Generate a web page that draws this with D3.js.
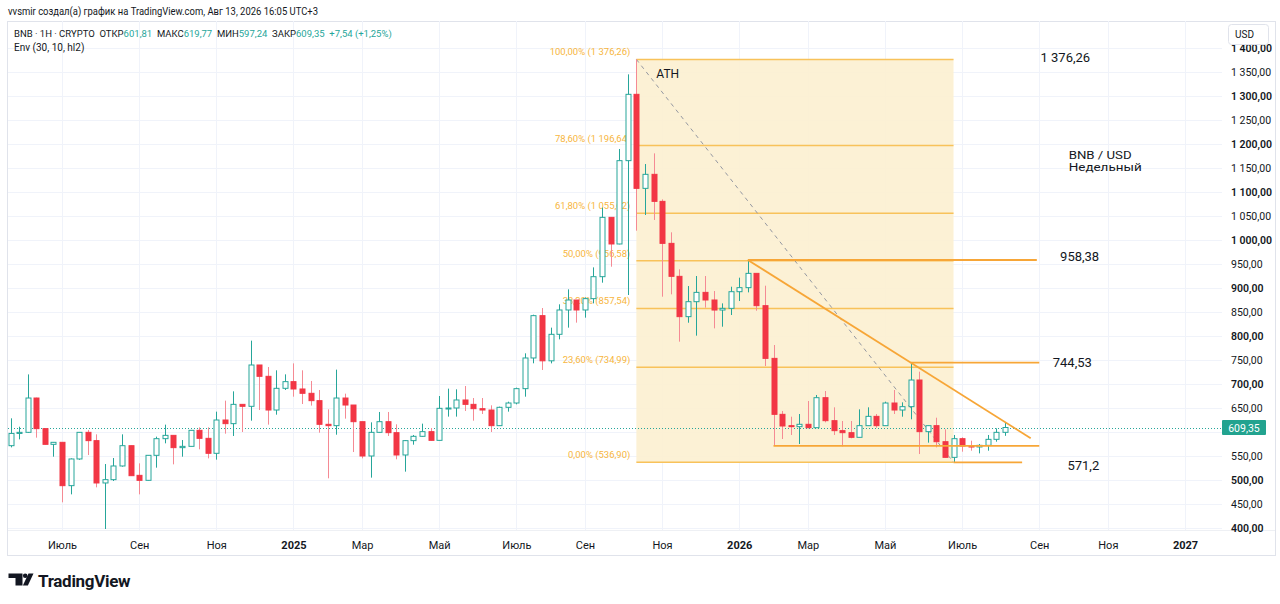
<!DOCTYPE html>
<html>
<head>
<meta charset="utf-8">
<script src="https://cdn.jsdelivr.net/npm/d3@7"></script>
<style>
  body { margin: 0; background: #fff; }
  svg { font-family: Roboto, "Noto Sans", sans-serif; display: block; }
</style>
</head>
<body>
<div id="chart"></div>
<script>
// weekly BNB/USD candles, first bar = week of 2024-05-20
const firstWeek = "2024-05-20";
const opens = [571.5, 597, 599.3, 670.8, 607, 574.3, 578.5, 488.2, 543.8, 599.3,
  582, 493.8, 500.7, 529.2, 571.5, 509.7, 499.3, 551.4, 586.1, 593,
  567.4, 570.1, 603.5, 586.8, 555.6, 625, 617.4, 657.6, 653.5, 739.6,
  716, 645.8, 691, 704.9, 689.6, 680.6, 665.3, 616, 613.2, 670.8,
  656.2, 621.5, 550, 599.3, 621.5, 598.6, 552.1, 582, 591, 600.7,
  582.6, 649.3, 650, 666.7, 657.6, 648.6, 645.8, 613.2, 651.4, 660.4,
  690.3, 754.2, 842.4, 748.3, 803.5, 854.2, 875, 854.2, 877.8, 923.6,
  1047.2, 991.7, 1165.3, 1303.5, 1107.6, 1136.8, 1080.5, 993, 924.3, 840.3,
  871.5, 890.9, 875, 854.1, 857.6, 892.3, 900.7, 930.5, 863.2, 753.4,
  636.8, 613.2, 611.1, 616, 609, 671.5, 623.6, 602.8, 598.6, 588.9,
  613.2, 632.6, 613.2, 660.4, 645.8, 652.8, 708.3, 600.7, 613.2, 579.8,
  547.2, 586.1, 570.8, 568.8, 572.2, 584.7, 599.3];
const highs = [628.5, 611, 720, 671.5, 607.6, 578.5, 578.5, 545, 599.3, 604.2,
  595.1, 533.3, 545.8, 595.1, 571.5, 534.7, 551.4, 590.3, 615.3, 593,
  583.3, 603.5, 609.7, 609.7, 642.4, 665.3, 684.7, 657.6, 790.3, 739.6,
  735.4, 728.5, 720.1, 743, 728.5, 706.3, 687.5, 647.2, 729.9, 679.9,
  656.2, 621.5, 620.1, 641.7, 641.7, 616, 583.3, 593.8, 617.4, 608.3,
  675, 690.3, 688.9, 695.8, 670.8, 670.8, 655.6, 652.8, 663.2, 692.4,
  763.9, 844.4, 858.3, 817.4, 866, 897.2, 875, 880.5, 943, 1067.4,
  1047.2, 1189.6, 1345.1, 1376.26, 1158.3, 1180.5, 1084.7, 1016, 938.9, 904.1,
  925, 925, 893.7, 868, 902.7, 921.5, 958.38, 930.5, 904.8, 781.2,
  643.8, 631.9, 637.5, 664.6, 677.1, 685.4, 651.4, 622.9, 622.9, 647.2,
  651.4, 637.5, 663.2, 687.5, 661.8, 744.53, 725.7, 613.2, 629.8, 605.5,
  593.8, 588.9, 581.9, 575, 593.8, 607.6, 619.77];
const lows = [568, 584.7, 598, 588.2, 574, 548.6, 453.5, 470.1, 542, 552.1,
  484.7, 397.9, 497.9, 527.8, 509, 470.1, 499, 525.7, 576.4, 532.6,
  548.6, 570, 563.9, 545.1, 542.4, 596.5, 591.7, 600, 623.6, 645.8,
  615.3, 636.1, 687.5, 673.6, 658.3, 655, 598.6, 503.5, 594.4, 627.8,
  558.3, 545.1, 504.9, 599, 591.7, 543.1, 517.4, 573.6, 590.3, 582,
  582, 632, 632, 643.8, 623.6, 637.5, 600, 613, 642.4, 657.6,
  673.6, 743.1, 729.2, 743, 793, 817.4, 827.8, 838.2, 868, 911.1,
  944.4, 991, 885.4, 1019.4, 1052.1, 1041.7, 881.9, 886.8, 788.2, 827.7,
  800.7, 859, 815.9, 819.4, 843.7, 872.9, 890.9, 852.7, 737.5, 571.2,
  585.4, 593.8, 575, 607.6, 609, 620.1, 593.8, 570, 586.8, 588.9,
  613.2, 609, 613, 637.5, 631.9, 626.4, 554.1, 577.8, 568, 547,
  536.9, 559, 561.1, 555.5, 561.1, 579.8, 592];
const closes = [597, 599.3, 670.8, 607, 574.3, 578.5, 488.2, 543.8, 599.3, 582,
  493.8, 500.7, 529.2, 571.5, 509, 499.3, 551.4, 586.1, 593, 567.4,
  570.1, 603.5, 586.8, 555.6, 625, 617.4, 657.6, 653.5, 739.6, 716,
  645.8, 691, 704.9, 689.6, 680.6, 665.3, 616, 613.2, 670.8, 656.2,
  621.5, 550, 599.3, 621.5, 598.6, 552.1, 582, 591, 600.7, 582.6,
  649.3, 650, 666.7, 657.6, 648.6, 645.8, 613.2, 651.4, 660.4, 690.3,
  754.2, 842.4, 748.3, 803.5, 854.2, 875, 854.2, 877.8, 923.6, 1047.2,
  991.7, 1165.3, 1303.5, 1107.6, 1136.8, 1080.5, 993, 924.3, 840.3, 871.5,
  890.9, 875, 854.1, 857.6, 892.3, 900.7, 930.5, 863.2, 753.4, 636.8,
  612.5, 611.1, 616, 609, 671.5, 623.6, 602.8, 598.6, 588.9, 613.2,
  632.6, 613.2, 660.4, 645.8, 652.8, 708.3, 600.7, 613.2, 579.8, 547.2,
  586.1, 570.8, 568.8, 572.2, 584.7, 599.3, 609.35];

// x axis: first weekly bar of every second month
const tickDates = ["2024-07-01", "2024-09-02", "2024-11-04", "2025-01-06", "2025-03-03", "2025-05-05",
  "2025-07-07", "2025-09-01", "2025-11-03", "2026-01-05", "2026-03-02", "2026-05-04",
  "2026-07-06", "2026-09-07", "2026-11-02", "2027-01-04"];
const tickLabels = ["Июль", "Сен", "Ноя", "2025", "Мар", "Май", "Июль", "Сен", "Ноя", "2026",
  "Мар", "Май", "Июль", "Сен", "Ноя", "2027"];

// fibonacci retracement ATH -> low
const fibStart = "2025-10-13", fibEnd = "2026-06-29";
const fibHigh = 1376.26, fibLow = 536.90;
const fibRatios = [0, 0.236, 0.382, 0.5, 0.618, 0.786, 1];

// hand drawn levels
const levelPrices = [958.38, 744.53, 571.2, 536.90];
const levelStarts = ["2026-01-12", "2026-05-25", "2026-02-02", "2026-06-29"];
const levelEnds = ["2026-09-05", "2026-09-07", "2026-09-07", "2026-08-24"];
const trendFrom = ["2026-01-12", 958.38], trendTo = ["2026-08-31", 586.9];
const lastPrice = 609.35;

const W = 1280, H = 604;
const plot = { left: 8, right: 1222, top: 21, bottom: 530 };
const green = "#26a69a", red = "#f23645", redWick = "#f58a94";
const fibColor = "#f8c25a", lineColor = "#f7a637", ink = "#131722";

const parse = d3.utcParse("%Y-%m-%d");
const ru = d3.formatLocale({ decimal: ",", thousands: "\u00a0", grouping: [3], currency: ["", ""] });
const fmtPrice = ru.format(",.2f");
const fmtLevel = ru.format(",");
const fmtPct = ru.format(".2f");

const x = d3.scaleUtc().domain([parse("2024-07-01"), parse("2027-01-04")]).range([62, 1185]);
const y = d3.scaleLinear().domain([400, 1400]).range([528, 48]);

const bars = opens.map((o, i) => ({
  date: d3.utcDay.offset(parse(firstWeek), 7 * i),
  o: o, h: highs[i], l: lows[i], c: closes[i]
}));

const svg = d3.select("#chart").append("svg").attr("width", W).attr("height", H);

svg.append("defs").append("clipPath").attr("id", "clip")
  .append("rect").attr("x", plot.left).attr("y", plot.top)
  .attr("width", plot.right - plot.left).attr("height", plot.bottom - plot.top);

// header
svg.append("text").attr("x", 8).attr("y", 15).attr("font-size", 10.5).attr("fill", ink)
  .attr("textLength", 310).attr("lengthAdjust", "spacingAndGlyphs")
  .text("vvsmir создал(а) график на TradingView.com, Авг 13, 2026 16:05 UTC+3");

// frame
svg.append("rect").attr("x", 7.5).attr("y", 21.5).attr("width", 1268).attr("height", 534)
  .attr("fill", "none").attr("stroke", "#e0e3eb");
svg.append("line").attr("x1", 8).attr("x2", 1275).attr("y1", plot.bottom + 0.5).attr("y2", plot.bottom + 0.5)
  .attr("stroke", "#eef0f4");

// grid
const grid = svg.append("g").attr("clip-path", "url(#clip)");
grid.selectAll("line.h").data(d3.range(400, 1401, 50)).join("line")
  .attr("x1", plot.left).attr("x2", plot.right)
  .attr("y1", d => Math.round(y(d)) + 0.5).attr("y2", d => Math.round(y(d)) + 0.5)
  .attr("stroke", "#f0f3fa");
grid.selectAll("line.v").data(tickDates).join("line")
  .attr("y1", plot.top).attr("y2", plot.bottom)
  .attr("x1", d => Math.round(x(parse(d))) + 0.5).attr("x2", d => Math.round(x(parse(d))) + 0.5)
  .attr("stroke", "#f0f3fa");

// fibonacci block
const fx0 = x(parse(fibStart)), fx1 = x(parse(fibEnd));
const fibG = svg.append("g");
fibG.append("rect").attr("x", fx0).attr("y", y(fibHigh))
  .attr("width", fx1 - fx0).attr("height", y(fibLow) - y(fibHigh))
  .attr("fill", "#fcefd0").attr("opacity", 0.9);
const fibLevels = fibRatios.map(r => ({ r: r, p: fibLow + r * (fibHigh - fibLow) }));
fibG.selectAll("line").data(fibLevels).join("line")
  .attr("x1", fx0).attr("x2", fx1).attr("y1", d => y(d.p)).attr("y2", d => y(d.p))
  .attr("stroke", fibColor).attr("stroke-width", 1.5);
fibG.selectAll("text").data(fibLevels).join("text")
  .attr("x", fx0 - 6).attr("y", d => y(d.p) - 4)
  .attr("text-anchor", "end").attr("font-size", 9.5).attr("fill", "#f7b640")
  .text(d => `${fmtPct(d.r * 100)}% (${fmtPrice(d.p)})`);
fibG.append("line")
  .attr("x1", fx0).attr("y1", y(fibHigh)).attr("x2", fx1).attr("y2", y(fibLow))
  .attr("stroke", "#9598a1").attr("stroke-dasharray", "4,4");

// current price dotted line
svg.append("line").attr("x1", plot.left).attr("x2", plot.right)
  .attr("y1", Math.round(y(lastPrice)) + 0.5).attr("y2", Math.round(y(lastPrice)) + 0.5)
  .attr("stroke", green).attr("stroke-dasharray", "1,2");

// candles
const cg = svg.append("g").attr("clip-path", "url(#clip)");
const bw = 5;
cg.selectAll("line.wick").data(bars).join("line")
  .attr("x1", d => Math.round(x(d.date)) + 0.5).attr("x2", d => Math.round(x(d.date)) + 0.5)
  .attr("y1", d => y(d.h)).attr("y2", d => y(d.l))
  .attr("stroke", d => d.c >= d.o ? green : redWick);
cg.selectAll("rect.body").data(bars).join("rect")
  .attr("x", d => Math.round(x(d.date)) + 0.5 - bw / 2)
  .attr("width", bw)
  .attr("y", d => y(Math.max(d.o, d.c)))
  .attr("height", d => Math.max(1, Math.abs(y(d.o) - y(d.c))))
  .attr("fill", d => d.c >= d.o ? "#ffffff" : red)
  .attr("stroke", d => d.c >= d.o ? green : red);

// hand drawn lines
const lg = svg.append("g");
lg.selectAll("line.level").data(levelPrices).join("line")
  .attr("x1", (d, i) => x(parse(levelStarts[i]))).attr("x2", (d, i) => x(parse(levelEnds[i])))
  .attr("y1", d => y(d)).attr("y2", d => y(d))
  .attr("stroke", lineColor).attr("stroke-width", 1.8);
lg.append("line")
  .attr("x1", x(parse(trendFrom[0]))).attr("y1", y(trendFrom[1]))
  .attr("x2", x(parse(trendTo[0]))).attr("y2", y(trendTo[1]))
  .attr("stroke", lineColor).attr("stroke-width", 1.8);

// annotations
const ann = svg.append("g").attr("font-size", 13).attr("fill", ink);
ann.append("text").attr("x", x(parse("2026-09-08"))).attr("y", y(fibHigh) + 3).text(fmtLevel(fibHigh));
ann.append("text").attr("x", x(parse("2026-09-24"))).attr("y", y(levelPrices[0]) + 1).text(fmtLevel(levelPrices[0]));
ann.append("text").attr("x", x(parse("2026-09-18"))).attr("y", y(levelPrices[1]) + 4.5).text(fmtLevel(levelPrices[1]));
ann.append("text").attr("x", x(parse("2026-09-30"))).attr("y", y(levelPrices[2]) + 24).text(fmtLevel(levelPrices[2]));
ann.append("text").attr("x", x(parse("2026-10-01"))).attr("y", y(1169)).attr("font-size", 11.5)
  .attr("textLength", 63).attr("lengthAdjust", "spacingAndGlyphs").text("BNB / USD");
ann.append("text").attr("x", x(parse("2026-10-01"))).attr("y", y(1143.5)).attr("font-size", 11.5)
  .attr("textLength", 73).attr("lengthAdjust", "spacingAndGlyphs").text("Недельный");
ann.append("text").attr("x", fx0 + 20).attr("y", y(fibHigh) + 19).attr("font-size", 12).text("ATH");

// legend
const leg = svg.append("text").attr("x", 14).attr("y", 37).attr("font-size", 9.5).attr("fill", ink)
  .attr("xml:space", "preserve");
const legendParts = [["BNB · 1H · CRYPTO  ОТКР", ink], ["601,81", green], ["  МАКС", ink], ["619,77", green],
  ["  МИН", ink], ["597,24", green], ["  ЗАКР", ink], ["609,35", green], ["  +7,54 (+1,25%)", green]];
leg.selectAll("tspan").data(legendParts).join("tspan")
  .attr("fill", d => d[1]).text(d => d[0]);
svg.append("text").attr("x", 14).attr("y", 51).attr("font-size", 10).attr("fill", ink).text("Env (30, 10, hl2)");

// price axis (the label under the last price tag is hidden, as on the platform)
const yTicks = d3.range(400, 1401, 50).filter(v => Math.abs(y(v) - y(lastPrice)) > 9);
const yAxis = svg.append("g").attr("transform", `translate(${plot.right + 4},0)`)
  .call(d3.axisRight(y).tickValues(yTicks).tickSize(0).tickPadding(5).tickFormat(fmtPrice));
yAxis.select(".domain").remove();
yAxis.selectAll("text").attr("font-size", 10.5).attr("fill", ink)
  .attr("font-family", "Roboto, sans-serif")
  .attr("font-weight", d => d % 100 === 0 ? 600 : 400);

svg.append("rect").attr("x", 1228.5).attr("y", 24.5).attr("width", 40).attr("height", 20).attr("rx", 3)
  .attr("fill", "#fff").attr("stroke", "#e0e3eb");
svg.append("text").attr("x", 1235).attr("y", 38).attr("font-size", 10).attr("fill", ink).text("USD");

const ty = y(lastPrice);
svg.append("rect").attr("x", plot.right).attr("y", ty - 7.5).attr("width", 44).attr("height", 15)
  .attr("rx", 1).attr("fill", "#22a38f");
svg.append("text").attr("x", plot.right + 22).attr("y", ty + 4).attr("text-anchor", "middle")
  .attr("font-size", 10.5).attr("fill", "#fff").text(fmtPrice(lastPrice));

// time axis
const xAxis = svg.append("g").attr("transform", `translate(0,${plot.bottom})`)
  .call(d3.axisBottom(x).tickValues(tickDates.map(parse)).tickSize(0).tickPadding(11)
    .tickFormat((d, i) => tickLabels[i]));
xAxis.select(".domain").remove();
xAxis.selectAll("text").attr("font-size", 11).attr("fill", ink)
  .attr("font-family", "Roboto, sans-serif")
  .attr("font-weight", (d, i) => /^\d+$/.test(tickLabels[i]) ? 700 : 400);

// TradingView logo
const logo = svg.append("g").attr("fill", ink);
logo.append("path").attr("d", "M8.5,573.5h14v12h-7v-7.5h-7z");
logo.append("circle").attr("cx", 25.2).attr("cy", 575.8).attr("r", 2.3);
logo.append("path").attr("d", "M28.5,573.5h5l-5.6,12h-5z");
svg.append("text").attr("x", 38).attr("y", 586.5).attr("font-size", 17).attr("font-weight", 700)
  .attr("fill", ink).attr("letter-spacing", -0.3).text("TradingView");
</script>
</body>
</html>
